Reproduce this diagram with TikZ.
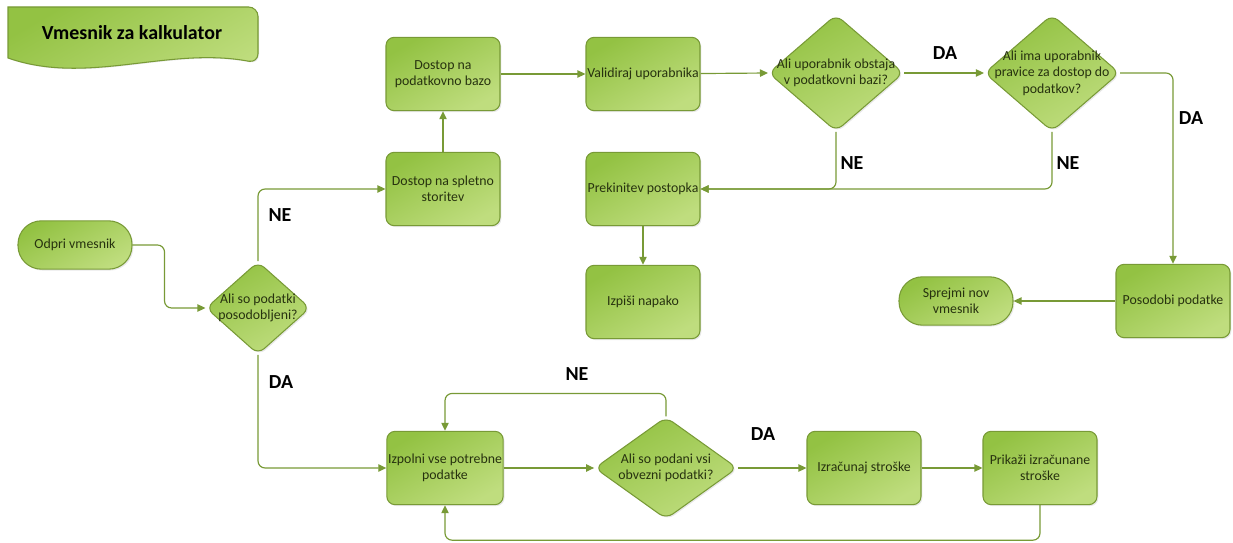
\documentclass[tikz,border=0pt]{standalone}
\usepackage{fontspec}
\setmainfont{Carlito}
\usetikzlibrary{shapes.geometric, arrows.meta, positioning, shadows}

\definecolor{boxtop}{HTML}{93C243}
\definecolor{boxbot}{HTML}{BFDD7E}
\definecolor{boxline}{HTML}{789A36}
\definecolor{boxtext}{HTML}{27320F}

\begin{document}
\begin{tikzpicture}[x=0.03cm, y=-0.03cm,
		box/.style={draw=boxline, line width=0.9pt, rectangle, rounded corners=7pt, top color=boxtop, bottom color=boxbot, shading angle=30,
			minimum width=3.42cm, minimum height=2.2cm, align=center, inner sep=1pt, text=boxtext, font=\fontsize{11.8}{14}\selectfont,
			drop shadow={opacity=0.18, shadow xshift=1.2pt, shadow yshift=-1.2pt}},
		terminal/.style={box, rounded corners=20pt, minimum width=3.42cm, minimum height=1.45cm},
		decision/.style={draw=boxline, line width=0.9pt, diamond, rounded corners=7pt, top color=boxtop, bottom color=boxbot, shading angle=30,
			inner sep=0pt, drop shadow={opacity=0.18, shadow xshift=1.2pt, shadow yshift=-1.2pt}},
		qtext/.style={align=center, text=boxtext, font=\fontsize{11.8}{14}\selectfont},
		answer/.style={font=\fontsize{17}{19}\selectfont\bfseries, text=black},
		flow/.style={draw=boxline, line width=1pt, rounded corners=6pt, -{Triangle[length=2.4mm, width=2.2mm]}}
		]
		\useasboundingbox (0,0) rectangle (1233,543);
		
		% title banner
		\fill[black, opacity=0.10] (9,9) [rounded corners=8pt] -- (259,9) -- (259,64) [sharp corners] .. controls (169,47) and (89,87) .. (9,59) -- cycle;
		\draw[draw=boxline, line width=0.9pt, top color=boxtop, bottom color=boxbot, shading angle=30] (8,7) [rounded corners=8pt] -- (258,7) -- (258,63) [sharp corners] .. controls (168,46) and (88,86) .. (8,58) -- cycle;
		\node[text=black, font=\fontsize{17}{19}\selectfont\bfseries] (title) at (132,33) {Vmesnik za kalkulator};
		
		\node [terminal] (odpri) at (75,245) {Odpri vmesnik};
		\node [decision, minimum width=3.12cm, minimum height=2.78cm, label={[qtext]center:Ali so podatki\\posodobljeni?}] (d0) at (258,308) {};
		
		\node [box] (splet) at (443,189) {Dostop na spletno\\storitev};
		\node [box] (baza) at (443,74) {Dostop na\\podatkovno bazo};
		\node [box] (valid) at (643,74) {Validiraj uporabnika};
		\node [decision, minimum width=4.05cm, minimum height=3.5cm, label={[qtext]center:Ali uporabnik obstaja\\v podatkovni bazi?}] (d1) at (836,73) {};
		\node [decision, minimum width=4.05cm, minimum height=3.5cm, label={[qtext]center:Ali ima uporabnik\\pravice za dostop do\\podatkov?}] (d2) at (1052,73) {};
		
		\node [box] (prekin) at (643,189) {Prekinitev postopka};
		\node [box] (napaka) at (643,302) {Izpiši napako};
		\node [box] (posod) at (1173,301) {Posodobi podatke};
		\node [terminal] (sprejmi) at (956,301) {Sprejmi nov\\vmesnik};
		
		\node [box] (izpol) at (445,468) {Izpolni vse potrebne\\podatke};
		\node [decision, minimum width=4.28cm, minimum height=3.06cm, label={[qtext]center:Ali so podani vsi\\obvezni podatki?}] (d3) at (666,468) {};
		\node [box] (izrac) at (864,468) {Izračunaj stroške};
		\node [box] (prikaz) at (1040,468) {Prikaži izračunane\\stroške};
		
		% connectors
		\draw[flow] (odpri.east) -- ++(32,0) |- (d0.west);
		\draw[flow] (d0.north) |- (splet.west);
		\draw[flow] (splet) -- (baza);
		\draw[flow] (baza) -- (valid);
		\draw[flow] (valid) -- (d1.west);
		\draw[flow] (d1.east) -- (d2.west);
		\draw[flow] (d2.east) -| (posod.north);
		\draw[flow] (posod.west) -- (sprejmi.east);
		\draw[flow] (d2.south) |- (prekin.east);
		\draw[flow] (d1.south) |- (prekin.east);
		\draw[flow] (prekin) -- (napaka);
		
		\draw[flow] (d0.south) |- (izpol.west);
		\draw[flow] (izpol) -- (d3.west);
		\draw[flow] (d3.north) -- ++(0,-23) -| (izpol.north);
		\draw[flow] (d3.east) -- (izrac.west);
		\draw[flow] (izrac) -- (prikaz);
		\draw[flow] (prikaz.south) -- ++(0,35) -| (izpol.south);
		
		% answers
		\node [answer] (ne0) at (280,215) {NE};
		\node [answer] (da0) at (281,382) {DA};
		\node [answer] (da1) at (945,53) {DA};
		\node [answer] (ne1) at (852,163) {NE};
		\node [answer] (ne2) at (1068,163) {NE};
		\node [answer] (da2) at (1191,118) {DA};
		\node [answer] (ne3) at (577,374) {NE};
		\node [answer] (da3) at (763,434) {DA};
	\end{tikzpicture}
\end{document}
